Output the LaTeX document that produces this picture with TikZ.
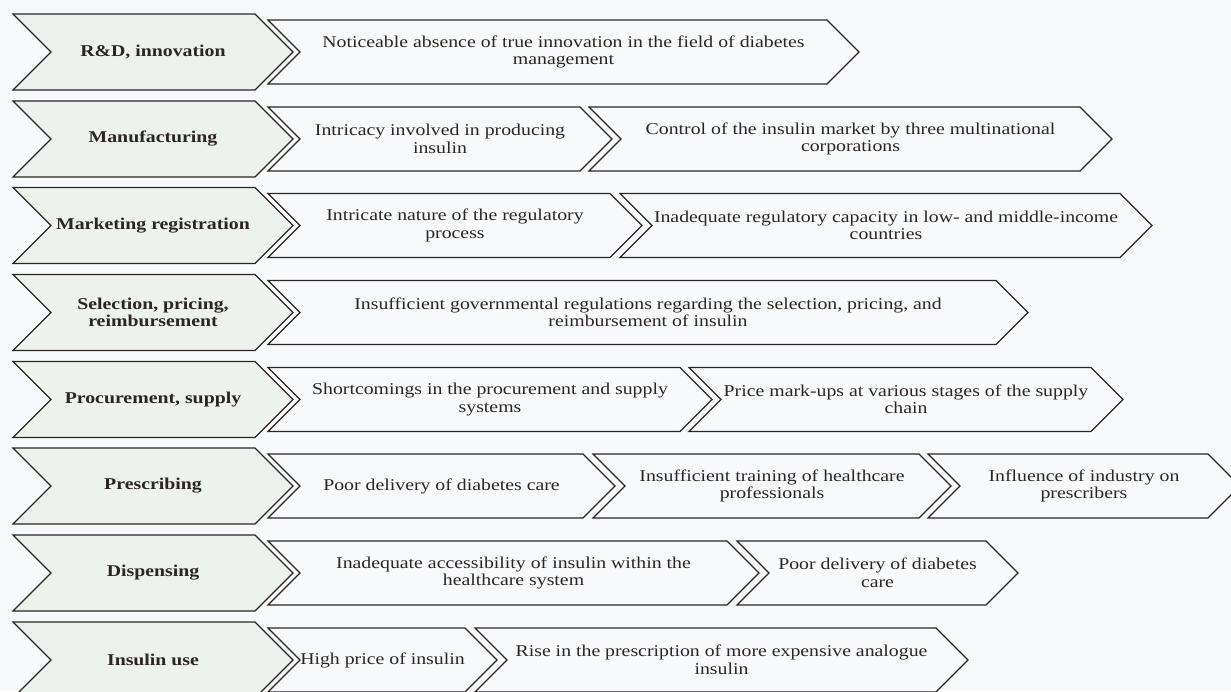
\documentclass[tikz,border=0pt]{standalone}
\usepackage{fontspec}
\setmainfont{Liberation Serif}[FakeStretch=1.2]
\definecolor{bg}{HTML}{F8F9FB}
\definecolor{lfill}{HTML}{EDF2EF}
\definecolor{ln}{HTML}{2B2623}
\tikzset{
  lab/.style={align=center, font=\fontsize{16.5}{17.5}\selectfont, text=ln, inner sep=0pt},
  stage/.style={align=center, font=\fontsize{16.5}{17.5}\selectfont\bfseries, text=ln, inner sep=0pt},
  lshape/.style={draw=ln, fill=lfill, line width=1.1pt, line join=miter},
  rshape/.style={draw=ln, fill=bg, line width=1.1pt, line join=miter},
}
% #1 name, #2 x left, #3 x top-right, #4 y centre, #5 half height, #6 shape style, #7 text style, #8 text
\newcommand{\chevbox}[8]{%
  \draw[#6] (#2,#4-#5) -- (#3,#4-#5) -- (#3+#5,#4) -- (#3,#4+#5) -- (#2,#4+#5) -- (#2+#5,#4) -- cycle;
  \node[#7] (#1) at ({(#2+#5+#3)/2},#4) {#8};
}
\begin{document}
\begin{tikzpicture}[x=1pt,y=-1pt]
\useasboundingbox (0,0) rectangle (1231,691);
\clip (0,0) rectangle (1231,691);
\fill[bg] (0,0) rectangle (1231,691);
% row 1
\chevbox{s1}{13}{255}{52}{38}{lshape}{stage}{R\&D, innovation}
\chevbox{a1}{268}{827}{52}{32}{rshape}{lab}{Noticeable absence of true innovation in the field of diabetes\\management}
% row 2
\chevbox{s2}{13}{255}{139}{38}{lshape}{stage}{Manufacturing}
\chevbox{a2}{268}{580}{139}{32}{rshape}{lab}{Intricacy involved in producing\\insulin}
\chevbox{b2}{589}{1080}{139}{32}{rshape}{lab}{Control of the insulin market by three multinational\\corporations}
% row 3
\chevbox{s3}{13}{255}{225.5}{38}{lshape}{stage}{Marketing registration}
\chevbox{a3}{268}{610}{225.5}{32}{rshape}{lab}{Intricate nature of the regulatory\\process}
\chevbox{b3}{620}{1120}{225.5}{32}{rshape}{lab}{Inadequate regulatory capacity in low- and middle-income\\countries}
% row 4
\chevbox{s4}{13}{255}{312.5}{38}{lshape}{stage}{Selection, pricing,\\reimbursement}
\chevbox{a4}{268}{996}{312.5}{32}{rshape}{lab}{Insufficient governmental regulations regarding the selection, pricing, and\\reimbursement of insulin}
% row 5
\chevbox{s5}{13}{255}{399.5}{38}{lshape}{stage}{Procurement, supply}
\chevbox{a5}{268}{680}{399.5}{32}{rshape}{lab}{Shortcomings in the procurement and supply\\systems}
\chevbox{b5}{689}{1091}{399.5}{32}{rshape}{lab}{Price mark-ups at various stages of the supply\\chain}
% row 6
\chevbox{s6}{13}{255}{486}{38}{lshape}{stage}{Prescribing}
\chevbox{a6}{268}{583}{486}{32}{rshape}{lab}{Poor delivery of diabetes care}
\chevbox{b6}{593}{919}{486}{32}{rshape}{lab}{Insufficient training of healthcare\\professionals}
\chevbox{c6}{928}{1208}{486}{32}{rshape}{lab}{Influence of industry on\\prescribers}
% row 7
\chevbox{s7}{13}{255}{573}{38}{lshape}{stage}{Dispensing}
\chevbox{a7}{268}{727}{573}{32}{rshape}{lab}{Inadequate accessibility of insulin within the\\healthcare system}
\chevbox{b7}{737}{986}{573}{32}{rshape}{lab}{Poor delivery of diabetes\\care}
% row 8
\chevbox{s8}{13}{255}{660}{38}{lshape}{stage}{Insulin use}
\chevbox{a8}{268}{465}{660}{32}{rshape}{lab}{High price of insulin}
\chevbox{b8}{475}{936}{660}{32}{rshape}{lab}{Rise in the prescription of more expensive analogue\\insulin}
\end{tikzpicture}
\end{document}
